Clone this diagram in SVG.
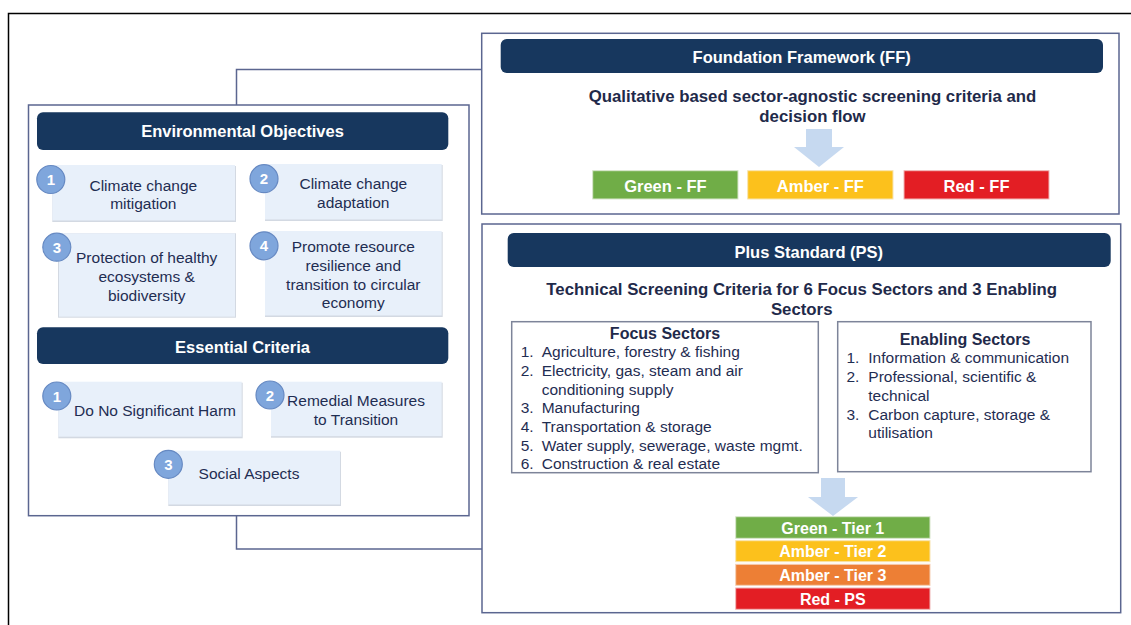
<svg xmlns="http://www.w3.org/2000/svg" width="1131" height="625" viewBox="0 0 1131 625">
<style>
.panel{fill:#fff;stroke:#5b6690;stroke-width:1.5}
.hdr{fill:#17375e}
.hdrt{font-family:"Liberation Sans",Arial,sans-serif;font-weight:bold;font-size:16.5px;fill:#fff;text-anchor:middle}
.box{fill:#e8f0fa}
.shadow{fill:#d3d9e2}
.bt{font-family:"Liberation Sans",Arial,sans-serif;font-size:15.5px;fill:#1f2d52;text-anchor:middle}
.circ{fill:#7fa6dc;stroke:#6689c2;stroke-width:1.2}
.num{font-family:"Liberation Sans",Arial,sans-serif;font-weight:bold;font-size:15px;fill:#fff;text-anchor:middle}
.sub{font-family:"Liberation Sans",Arial,sans-serif;font-weight:bold;font-size:16.8px;fill:#1f2a4a;text-anchor:middle}
.btn{font-family:"Liberation Sans",Arial,sans-serif;font-weight:bold;font-size:16.5px;fill:#fff;text-anchor:middle}
.sect{fill:#fff;stroke:#7d8499;stroke-width:1.5}
.st{font-family:"Liberation Sans",Arial,sans-serif;font-weight:bold;font-size:16px;fill:#1f2a4a;text-anchor:middle}
.li{font-family:"Liberation Sans",Arial,sans-serif;font-size:15.5px;fill:#1f2d52}
.arrow{fill:#c6d9f0}
.conn{fill:none;stroke:#5b6690;stroke-width:1.5}
</style>
<rect width="1131" height="625" fill="#fff"/>
<path d="M8.5 625 V13.5 H1131" fill="none" stroke="#000" stroke-width="1.5"/>
<g id="connectors">
<path class="conn" d="M236.5 105 V69.5 H481"/>
<path class="conn" d="M236.5 516 V549 H482"/>
</g>
<g id="left-panel">
<rect class="panel" x="28.5" y="105" width="440.5" height="410.7"/>
</g>
<g id="env-header">
<rect class="hdr" x="37" y="112.3" width="411.3" height="37.7" rx="6"/>
<text class="hdrt" x="242.5" y="137">Environmental Objectives</text>
</g>
<g id="env-1">
<rect class="shadow" x="52.3" y="166" width="183.7" height="56"/>
<rect class="box" x="52.3" y="165" width="182.7" height="55.5"/>
<circle class="circ" cx="50.8" cy="179.5" r="14"/>
<text class="num" x="50.8" y="185">1</text>
<text class="bt" x="143.3" y="190.5">Climate change</text>
<text class="bt" x="143.3" y="209">mitigation</text>
</g>
<g id="env-2">
<rect class="shadow" x="265" y="165" width="177.7" height="56"/>
<rect class="box" x="265" y="164" width="176.7" height="55.5"/>
<circle class="circ" cx="264" cy="178.7" r="14"/>
<text class="num" x="264" y="184.2">2</text>
<text class="bt" x="353.3" y="189">Climate change</text>
<text class="bt" x="353.3" y="208">adaptation</text>
</g>
<g id="env-3">
<rect class="shadow" x="58" y="233.3" width="178" height="84.4"/>
<rect class="box" x="59" y="233.3" width="176" height="83.4"/>
<circle class="circ" cx="56.8" cy="247.2" r="14"/>
<text class="num" x="56.8" y="252.7">3</text>
<text class="bt" x="146.7" y="263">Protection of healthy</text>
<text class="bt" x="146.7" y="281.5">ecosystems &amp;</text>
<text class="bt" x="146.7" y="300.5">biodiversity</text>
</g>
<g id="env-4">
<rect class="shadow" x="265" y="232" width="177.7" height="85"/>
<rect class="box" x="265" y="231" width="176.7" height="84.5"/>
<circle class="circ" cx="264" cy="245.8" r="14"/>
<text class="num" x="264" y="251.3">4</text>
<text class="bt" x="353.3" y="252">Promote resource</text>
<text class="bt" x="353.3" y="271">resilience and</text>
<text class="bt" x="353.3" y="289.5">transition to circular</text>
<text class="bt" x="353.3" y="308">economy</text>
</g>
<g id="ec-header">
<rect class="hdr" x="37" y="327.3" width="411.3" height="36.7" rx="6"/>
<text class="hdrt" x="242.5" y="352.5">Essential Criteria</text>
</g>
<g id="ec-1">
<rect class="shadow" x="58.3" y="382.7" width="184.4" height="55.6"/>
<rect class="box" x="58.3" y="381.7" width="183.4" height="55"/>
<circle class="circ" cx="56.8" cy="396" r="14"/>
<text class="num" x="56.8" y="401.5">1</text>
<text class="bt" x="155" y="415.5">Do No Significant Harm</text>
</g>
<g id="ec-2">
<rect class="shadow" x="271" y="382.7" width="171.7" height="55"/>
<rect class="box" x="271" y="381.7" width="170.7" height="54.5"/>
<circle class="circ" cx="270" cy="395" r="14"/>
<text class="num" x="270" y="400.5">2</text>
<text class="bt" x="356" y="405.5">Remedial Measures</text>
<text class="bt" x="356" y="424.5">to Transition</text>
</g>
<g id="ec-3">
<rect class="shadow" x="168.3" y="451.7" width="172.7" height="54.3"/>
<rect class="box" x="168.3" y="450.7" width="171.7" height="53.8"/>
<circle class="circ" cx="168.3" cy="464.3" r="14"/>
<text class="num" x="168.3" y="469.8">3</text>
<text class="bt" x="249" y="479">Social Aspects</text>
</g>
<g id="ff-panel">
<rect class="panel" x="481.7" y="33.3" width="637.3" height="180.7"/>
<rect class="hdr" x="500.7" y="39" width="602.3" height="34" rx="6"/>
<text class="hdrt" x="801.7" y="63">Foundation Framework (FF)</text>
<text class="sub" x="812.5" y="102">Qualitative based sector-agnostic screening criteria and</text>
<text class="sub" x="812.5" y="122">decision flow</text>
<path class="arrow" d="M806 129 H832 V147 H844 L819 167 L794 147 H806 Z"/>
</g>
<g id="ff-green">
<rect x="592.7" y="170.7" width="145.3" height="28.3" fill="#70ad47" stroke="#d8e6cc" stroke-width="1"/>
<text class="btn" x="665.4" y="191.5">Green - FF</text>
</g>
<g id="ff-amber">
<rect x="747.7" y="170.7" width="145.3" height="28.3" fill="#fcc11c" stroke="#f8e4b0" stroke-width="1"/>
<text class="btn" x="820.4" y="191.5">Amber - FF</text>
</g>
<g id="ff-red">
<rect x="904" y="170.7" width="145" height="28.3" fill="#e31e24" stroke="#f0b8b8" stroke-width="1"/>
<text class="btn" x="976.5" y="191.5">Red - FF</text>
</g>
<g id="ps-panel">
<rect class="panel" x="482" y="224" width="638.7" height="388.7"/>
<rect class="hdr" x="507.7" y="233" width="603" height="34" rx="6"/>
<text class="hdrt" x="808.8" y="257.5">Plus Standard (PS)</text>
<text class="sub" x="801.7" y="294.5">Technical Screening Criteria for 6 Focus Sectors and 3 Enabling</text>
<text class="sub" x="801.7" y="314.5">Sectors</text>
<path class="arrow" d="M821 478 H845 V497 H858 L833 516 L808 497 H821 Z"/>
</g>
<g id="focus-sectors">
<rect class="sect" x="511.7" y="321.7" width="306.6" height="151"/>
<text class="st" x="665" y="338.5">Focus Sectors</text>
<text class="li" x="520.7" y="357.2">1.</text><text class="li" x="541.7" y="357.2">Agriculture, forestry &amp; fishing</text>
<text class="li" x="520.7" y="375.5">2.</text><text class="li" x="541.7" y="375.5">Electricity, gas, steam and air</text>
<text class="li" x="541.7" y="394.5">conditioning supply</text>
<text class="li" x="520.7" y="413.2">3.</text><text class="li" x="541.7" y="413.2">Manufacturing</text>
<text class="li" x="520.7" y="432.2">4.</text><text class="li" x="541.7" y="432.2">Transportation &amp; storage</text>
<text class="li" x="520.7" y="450.5">5.</text><text class="li" x="541.7" y="450.5">Water supply, sewerage, waste mgmt.</text>
<text class="li" x="520.7" y="468.8">6.</text><text class="li" x="541.7" y="468.8">Construction &amp; real estate</text>
</g>
<g id="enabling-sectors">
<rect class="sect" x="837.7" y="321.7" width="253.3" height="150"/>
<text class="st" x="965" y="345">Enabling Sectors</text>
<text class="li" x="846.5" y="363.2">1.</text><text class="li" x="868.3" y="363.2">Information &amp; communication</text>
<text class="li" x="846.5" y="382.2">2.</text><text class="li" x="868.3" y="382.2">Professional, scientific &amp;</text>
<text class="li" x="868.3" y="400.5">technical</text>
<text class="li" x="846.5" y="419.8">3.</text><text class="li" x="868.3" y="419.8">Carbon capture, storage &amp;</text>
<text class="li" x="868.3" y="437.8">utilisation</text>
</g>
<g id="tier-green">
<rect x="735.7" y="516.7" width="194.3" height="21.6" fill="#70ad47" stroke="#d8e6cc" stroke-width="1"/>
<text class="btn" x="832.8" y="533.5" style="font-size:16px">Green - Tier 1</text>
</g>
<g id="tier-amber2">
<rect x="735.7" y="540.7" width="194.3" height="21" fill="#fcc11c" stroke="#f8e4b0" stroke-width="1"/>
<text class="btn" x="832.8" y="557" style="font-size:16px">Amber - Tier 2</text>
</g>
<g id="tier-amber3">
<rect x="735.7" y="564.3" width="194.3" height="21" fill="#ed7f35" stroke="#f5d0b5" stroke-width="1"/>
<text class="btn" x="832.8" y="580.7" style="font-size:16px">Amber - Tier 3</text>
</g>
<g id="tier-red">
<rect x="735.7" y="588" width="194.3" height="21.3" fill="#e31e24" stroke="#f0b8b8" stroke-width="1"/>
<text class="btn" x="832.8" y="604.5" style="font-size:16px">Red - PS</text>
</g>
</svg>
